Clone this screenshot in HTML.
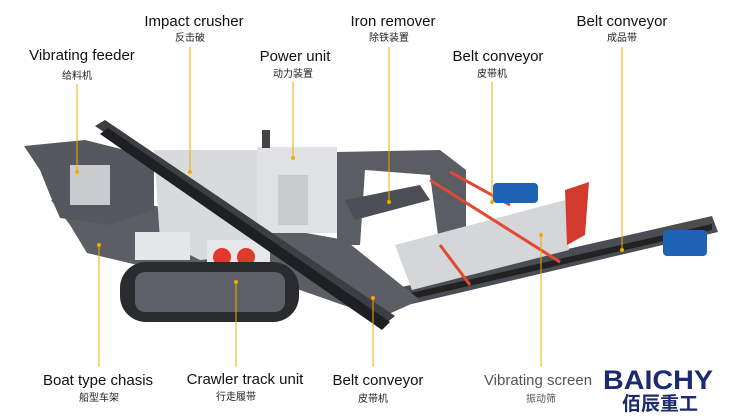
<!DOCTYPE html>
<html><head><meta charset="utf-8"><style>
html,body{margin:0;padding:0;background:#fff;}
svg{display:block}
.en{font-family:"Liberation Sans","Noto Sans CJK SC",sans-serif;font-size:15px;fill:#111;}
.cn{font-family:"Noto Sans CJK SC",sans-serif;font-size:10px;fill:#222;}
</style></head><body>
<svg width="750" height="420" viewBox="0 0 750 420" xmlns="http://www.w3.org/2000/svg">
<rect width="750" height="420" fill="#fff"/>
<!-- machine -->
<!-- right conveyor -->
<polygon points="380,292 712,216 718,232 386,310" fill="#4a4d54"/>
<polygon points="380,300 712,224 712,230 382,306" fill="#222"/>
<!-- lower chassis -->
<polygon points="51,200 150,205 345,240 420,300 380,318 300,290 200,280 87,253 70,225" fill="#5b5e65"/>
<!-- hopper / feeder -->
<polygon points="24,146 85,140 125,150 154,165 154,210 110,225 60,218 50,195 40,170" fill="#55585f"/>
<rect x="70" y="165" width="40" height="40" fill="#c9cccf"/>
<!-- crusher -->
<polygon points="154,150 257,150 257,255 200,260 160,240" fill="#d8dbdc"/>
<rect x="135" y="232" width="55" height="28" fill="#e4e6e7"/>
<!-- power unit -->
<rect x="257" y="147" width="80" height="86" fill="#dfe1e2"/>
<rect x="278" y="175" width="30" height="50" fill="#c8cbcd"/>
<rect x="262" y="130" width="8" height="18" fill="#444"/>
<!-- frame -->
<polygon points="337,152 440,150 466,170 466,250 440,250 430,175 365,170 360,245 337,245" fill="#5a5d64"/>
<polygon points="345,200 420,185 430,200 355,220" fill="#4c4f56"/>
<!-- screen -->
<polygon points="395,245 565,200 569,250 412,290" fill="#d4d6d8"/>
<polygon points="565,190 589,182 585,235 567,245" fill="#d23a2e"/>
<line x1="430" y1="180" x2="560" y2="262" stroke="#e04a35" stroke-width="3"/>
<line x1="450" y1="172" x2="510" y2="205" stroke="#e04a35" stroke-width="3"/>
<line x1="440" y1="245" x2="470" y2="285" stroke="#e04a35" stroke-width="3"/>
<!-- motors -->
<rect x="493" y="183" width="45" height="20" rx="4" fill="#1f63b5"/>
<rect x="663" y="230" width="44" height="26" rx="4" fill="#1f63b5"/>
<!-- red circles box -->
<rect x="207" y="240" width="63" height="33" fill="#e6e7e8"/>
<circle cx="222" cy="257" r="9" fill="#e0392a"/>
<circle cx="246" cy="257" r="9" fill="#e0392a"/>
<!-- crawler -->
<rect x="120" y="262" width="179" height="60" rx="26" fill="#2a2b2e"/>
<rect x="135" y="272" width="150" height="40" rx="10" fill="#5d6066"/>
<!-- inclined conveyor -->
<polygon points="95,126 105,120 395,316 385,324" fill="#3c3e44"/>
<polygon points="100,134 108,128 390,322 382,330" fill="#1e1f22"/>
<!-- leader lines -->
<g stroke="#f5a800" stroke-width="1">
<line x1="77" y1="84" x2="77" y2="172"/>
<line x1="190" y1="47" x2="190" y2="172"/>
<line x1="293" y1="82" x2="293" y2="158"/>
<line x1="389" y1="47" x2="389" y2="202"/>
<line x1="492" y1="82" x2="492" y2="202"/>
<line x1="622" y1="47" x2="622" y2="250"/>
<line x1="99" y1="245" x2="99" y2="367"/>
<line x1="236" y1="282" x2="236" y2="367"/>
<line x1="373" y1="298" x2="373" y2="367"/>
<line x1="541" y1="235" x2="541" y2="367"/>
</g>
<g fill="#f5a800">
<circle cx="77" cy="172" r="2"/><circle cx="190" cy="172" r="2"/><circle cx="293" cy="158" r="2"/>
<circle cx="389" cy="202" r="2"/><circle cx="492" cy="202" r="2"/><circle cx="622" cy="250" r="2"/>
<circle cx="99" cy="245" r="2"/><circle cx="236" cy="282" r="2"/><circle cx="373" cy="298" r="2"/><circle cx="541" cy="235" r="2"/>
</g>
<!-- labels -->
<text class="en" x="82" y="60" text-anchor="middle">Vibrating feeder</text>
<text class="cn" x="77" y="79" text-anchor="middle">给料机</text>
<text class="en" x="194" y="26" text-anchor="middle">Impact crusher</text>
<text class="cn" x="190" y="41" text-anchor="middle">反击破</text>
<text class="en" x="295" y="61" text-anchor="middle">Power unit</text>
<text class="cn" x="293" y="77" text-anchor="middle">动力装置</text>
<text class="en" x="393" y="26" text-anchor="middle">Iron remover</text>
<text class="cn" x="389" y="41" text-anchor="middle">除铁装置</text>
<text class="en" x="498" y="61" text-anchor="middle">Belt conveyor</text>
<text class="cn" x="492" y="77" text-anchor="middle">皮带机</text>
<text class="en" x="622" y="26" text-anchor="middle">Belt conveyor</text>
<text class="cn" x="622" y="41" text-anchor="middle">成品带</text>
<text class="en" x="98" y="385" text-anchor="middle">Boat type chasis</text>
<text class="cn" x="99" y="401" text-anchor="middle">船型车架</text>
<text class="en" x="245" y="384" text-anchor="middle">Crawler track unit</text>
<text class="cn" x="236" y="400" text-anchor="middle">行走履带</text>
<text class="en" x="378" y="385" text-anchor="middle">Belt conveyor</text>
<text class="cn" x="373" y="402" text-anchor="middle">皮带机</text>
<text class="en" x="538" y="385" text-anchor="middle" style="fill:#555">Vibrating screen</text>
<text class="cn" x="541" y="402" text-anchor="middle" style="fill:#555">振动筛</text>
<!-- logo -->
<text x="658" y="389" text-anchor="middle" style="font-family:'Liberation Sans',sans-serif;font-weight:bold;font-size:27px;fill:#1c2a6e" textLength="110" lengthAdjust="spacingAndGlyphs">BAICHY</text>
<text x="660" y="410" text-anchor="middle" style="font-family:'Noto Sans CJK SC',sans-serif;font-weight:bold;font-size:19px;fill:#1c2a6e">佰辰重工</text>
</svg>
</body></html>
